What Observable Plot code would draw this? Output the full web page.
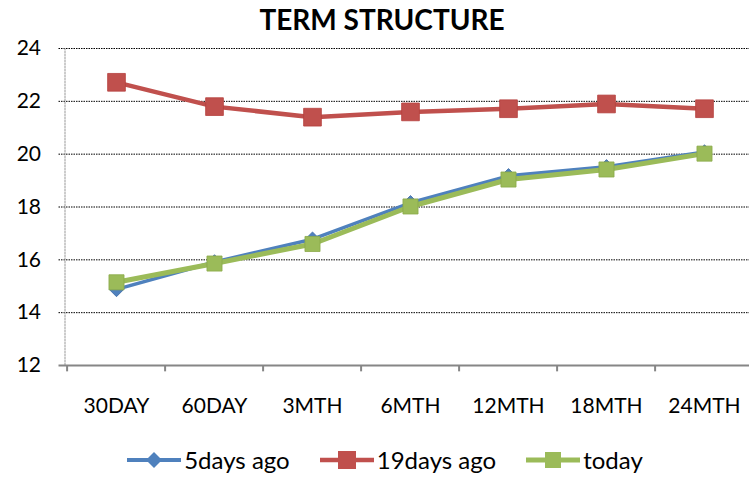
<!DOCTYPE html>
<html>
<head>
<meta charset="utf-8">
<script src="https://cdn.jsdelivr.net/npm/d3@7"></script>
<script src="https://cdn.jsdelivr.net/npm/@observablehq/plot@0.6"></script>
<style>
  html, body { margin: 0; padding: 0; background: #fff; }
  #wrap { position: relative; width: 749px; height: 480px; overflow: hidden; font-family: Lato, "Open Sans", sans-serif; }
  #title { position: absolute; top: 2px; left: 0; width: 764px; text-align: center; font-weight: bold; font-size: 28px; color: #000; }
  #legend { position: absolute; top: 445px; left: 0; width: 770px; display: flex; justify-content: center; gap: 30px; font-size: 24px; color: #000; }
  .item { display: flex; align-items: center; gap: 3px; }
  #chart { position: absolute; top: 0; left: 0; }
</style>
</head>
<body>
<div id="wrap">
  <div id="chart"></div>
  <div id="title">TERM STRUCTURE</div>
  <div id="legend"></div>
</div>
<script>
const categories = ["30DAY", "60DAY", "3MTH", "6MTH", "12MTH", "18MTH", "24MTH"];
const seriesNames = ["5days ago", "19days ago", "today"];
const fiveDaysAgo = [14.88, 15.92, 16.78, 18.16, 19.18, 19.52, 20.08];
const nineteenDaysAgo = [22.72, 21.80, 21.40, 21.60, 21.72, 21.90, 21.72];
const today = [15.15, 15.86, 16.60, 18.02, 19.04, 19.42, 20.02];
const yTicks = [12, 14, 16, 18, 20, 22, 24];
const colors = ["#4F81BD", "#C0504D", "#9BBB59"];

const diamond = {
  draw(context, size) {
    const a = Math.sqrt(size / 2);
    context.moveTo(0, -a); context.lineTo(a, 0); context.lineTo(0, a); context.lineTo(-a, 0); context.closePath();
  }
};

const rows = (name, vals) => categories.map((c, i) => ({series: name, cat: c, value: vals[i]}));
const blue = rows(seriesNames[0], fiveDaysAgo);
const red = rows(seriesNames[1], nineteenDaysAgo);
const green = rows(seriesNames[2], today);

const chart = Plot.plot({
  width: 749,
  height: 480,
  marginTop: 48,
  marginBottom: 115,
  marginLeft: 64.5,
  marginRight: 0,
  style: {fontFamily: "Lato, 'Open Sans', sans-serif", overflow: "visible"},
  x: {type: "band", domain: categories, range: [64.5, 756], padding: 0},
  y: {domain: [12, 24], ticks: yTicks},
  marks: [
    Plot.ruleY(yTicks.filter(d => d > 12), {stroke: "#000", strokeWidth: 1, strokeDasharray: "1.5,1", insetLeft: -6}),
    Plot.frame({anchor: "left", stroke: "#999", strokeDasharray: "1.5,1.5"}),
    Plot.ruleY([12], {stroke: "#868686", strokeWidth: 2, insetLeft: -6}),
    Plot.ruleX(categories, {x: d => d, y1: 12, y2: 11.76, dx: -49.4, stroke: "#868686", strokeWidth: 2}),
    Plot.axisX({tickSize: 0, tickPadding: 33, fontSize: 21, fill: "#000", label: null}),
    Plot.axisY({ticks: yTicks, tickSize: 0, tickPadding: 24, fontSize: 21, fill: "#000", label: null}),
    Plot.line(blue, {x: "cat", y: "value", stroke: colors[0], strokeWidth: 3.5}),
    Plot.dot(blue, {x: "cat", y: "value", symbol: diamond, r: 5.8, fill: colors[0], stroke: "#3C6AA5", strokeWidth: 0.8}),
    Plot.line(red, {x: "cat", y: "value", stroke: colors[1], strokeWidth: 4.5}),
    Plot.dot(red, {x: "cat", y: "value", symbol: "square", r: 10, fill: colors[1], stroke: "#B5403D", strokeWidth: 0.8}),
    Plot.line(green, {x: "cat", y: "value", stroke: colors[2], strokeWidth: 5}),
    Plot.dot(green, {x: "cat", y: "value", symbol: "square", r: 8.5, fill: colors[2], stroke: "#8AAA49", strokeWidth: 0.8})
  ]
});
document.getElementById("chart").appendChild(chart);

// legend
const legend = document.getElementById("legend");
const shapes = [
  '<polygon points="27,1 35,9 27,17 19,9" />',
  '<rect x="18" y="0" width="18" height="18" />',
  '<rect x="19" y="1" width="16" height="16" />'
];
const widths = [4, 4.5, 5];
seriesNames.forEach((name, i) => {
  const item = document.createElement("div");
  item.className = "item";
  item.innerHTML = `<svg width="54" height="18" viewBox="0 0 54 18"><line x1="0" y1="9" x2="54" y2="9" stroke="${colors[i]}" stroke-width="${widths[i]}"/><g fill="${colors[i]}">${shapes[i]}</g></svg><span>${name}</span>`;
  legend.appendChild(item);
});
</script>
</body>
</html>
